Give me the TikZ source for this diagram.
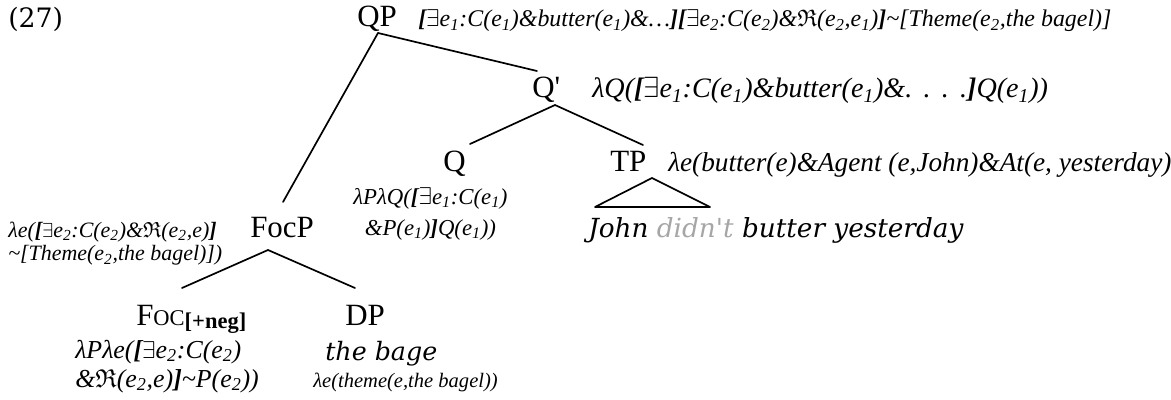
\documentclass[tikz,border=0pt]{standalone}
\usepackage{fontspec}
\usepackage{amssymb}
\setmainfont{Liberation Serif}
\newfontfamily\semfont{DejaVu Serif}
\usetikzlibrary{positioning}

% small helpers for the formulas
\newcommand{\exq}{$\exists$}
\newcommand{\frR}{$\mathfrak{R}$}
\newcommand{\lbr}{\textbf{[}}
\newcommand{\rbr}{\textbf{]}}
\newcommand{\eone}{e\textsubscript{1}}
\newcommand{\etwo}{e\textsubscript{2}}
\newcommand{\tld}{\textasciitilde}
\newcommand{\apo}{\textquotesingle}
\newcommand{\sdot}{.\hspace{0.4em}}

\begin{document}
\begin{tikzpicture}[
        x=0.025cm, y=-0.025cm,
        cat/.style={inner sep=0pt, anchor=base west, font=\fontsize{22}{24}\selectfont},
        sem/.style={inner sep=0pt, anchor=base west, font=\itshape\fontsize{#1}{#1}\selectfont},
        sem/.default=16,
        word/.style={inner sep=0pt, anchor=base west, font=\semfont\itshape\fontsize{#1}{20}\selectfont},
        word/.default=18.7,
        branch/.style={line width=1.2pt, line cap=round}
        ]
        \useasboundingbox (0,0) rectangle (1171,400);

        % example number
        \node (exno) [inner sep=0pt, anchor=base west, font=\semfont\fontsize{19}{20}\selectfont] at (8,28) {(27)};

        % categories
        \node (qp) [cat] at (357,27) {QP};
        \node (qbar) [cat] at (532,98) {Q\apo};
        \node (q) [cat] at (443,172) {Q};
        \node (tp) [cat] at (610,172) {TP};
        \node (focp) [cat] at (250,238) {FocP};
        \node (foc) [cat] at (136,325) {F{\fontsize{16}{20}\selectfont OC}\raisebox{-0.25ex}{\bfseries\fontsize{16}{16}\selectfont[+neg]}};
        \node (dp) [cat] at (345,325) {DP};

        % denotations
        \node (qpsem) [sem=17] at (418,27) {\lbr\exq\eone:C(\eone)\&butter(\eone)\&\ldots\rbr\lbr\exq\etwo:C(\etwo)\&\frR(\etwo,\eone)\rbr\tld[Theme(\etwo,the bagel)]};
        \node (qbarsem) [sem=20] at (592,98) {λQ(\lbr\exq\eone:C(\eone)\&butter(\eone)\&\sdot\sdot\sdot.\rbr Q(\eone))};
        \node (tpsem) [sem=19.4] at (668,172) {λe(butter(e)\&Agent (e,John)\&At(e, yesterday)};
        \node (qsem) [sem, align=center, font=\itshape\fontsize{16.2}{22}\selectfont] at (353,235) {λPλQ(\lbr\exq\eone:C(\eone)\\\&P(\eone)\rbr Q(\eone))};
        \node (john) [word] at (588,237) {John \textcolor{black!35}{didn\apo t} butter yesterday};
        \node (focpsem) [sem, align=left, font=\itshape\fontsize{15.6}{16.5}\selectfont] at (8,261) {λe(\lbr\exq\etwo:C(\etwo)\&\frR(\etwo,e)\rbr\\\tld[Theme(\etwo,the bagel)])};
        \node (focsem) [sem, align=left, font=\itshape\fontsize{18.4}{20.6}\selectfont] at (75,387) {λPλe(\lbr\exq\etwo:C(\etwo)\\\&\frR(\etwo,e)\rbr\tld P(\etwo))};
        \node (dpword) [word=18] at (325,360) {the bage};
        \node (dpsem) [sem=14.6] at (313,387) {λe(theme(e,the bagel))};

        % branches
        \draw [branch] ([shift={(21,6)}]qp.base west) -- ([shift={(33,-36)}]focp.base west);
        \draw [branch] ([shift={(21,6)}]qp.base west) -- ([shift={(5,-27)}]qbar.base west);
        \draw [branch] ([shift={(23,7)}]qbar.base west) -- ([shift={(27,-28)}]q.base west);
        \draw [branch] ([shift={(23,7)}]qbar.base west) -- ([shift={(33,-27)}]tp.base west);
        \draw [branch] ([shift={(18,12)}]focp.base west) -- ([shift={(46,-37)}]foc.base west);
        \draw [branch] ([shift={(18,12)}]focp.base west) -- ([shift={(10,-37)}]dp.base west);

        % roof over TP
        \draw [branch, line join=round] ([shift={(42,6)}]tp.base west) -- ([shift={(7,-30)}]john.base west) -- ([shift={(122,-30)}]john.base west) -- cycle;

\end{tikzpicture}
\end{document}
